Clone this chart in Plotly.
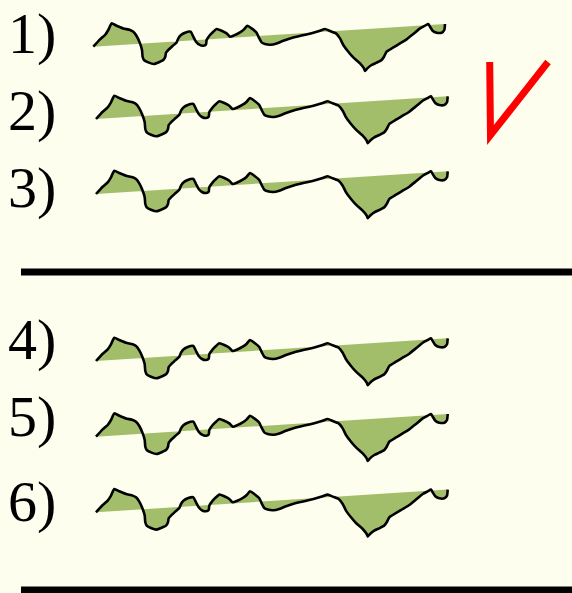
import plotly.graph_objects as go

# ground profile, shared by all six panels: distance along the profile and
# elevation relative to the start point (px, positive = up)
profile_dist = [
    0, 6.7, 11.7, 15, 18.3, 23.3, 30, 36.7, 40, 43.3, 46.7, 48.7, 49.3, 50.7,
    55, 60.7, 66.7, 70, 72, 72.7, 75, 79.3, 83.3, 85, 87.7, 91.7, 97.3, 100,
    102.7, 106, 110, 112.7, 113.3, 116.7, 120, 123.3, 128.3, 133.3, 136.7,
    140.7, 146.7, 150.7, 154, 158.3, 163.3, 166, 168.3, 171.7, 177.3, 183.3,
    190, 196.7, 203.3, 213.3, 220, 226.7, 231.7, 236.7, 242.7, 246.7, 250,
    255, 260, 266.7, 270.7, 271.7, 274, 278.3, 283.3, 288.3, 290.7, 293.3,
    300, 306.7, 313.3, 320, 326.7, 331.7, 335, 336.7, 339.3, 343.3, 348.3,
    351, 351.7,
]
profile_elev = [
    0, 7.3, 11.7, 16.7, 23.3, 21, 18.3, 16.7, 15, 10.7, 3.3, -3.3, -10, -13.3,
    -15.7, -17.3, -15, -13.3, -10, -6, -3.3, 0.7, 4.3, 8.3, 11.7, 14, 15, 10,
    5, 2, 1, 2.3, 6.7, 11.7, 15, 17.7, 16, 13.3, 10,
    11.3, 14.3, 17.3, 21, 18.3, 14, 8.3, 4.3, 2.7, 2, 3.3,
    6, 8.3, 10, 12.3, 14, 16, 17.7, 15.7, 13.3, 8.3, 1.7,
    -5, -10.7, -16.7, -21.7, -24.3, -21.7, -18.3, -16, -13.3, -10, -5,
    -0.7, 3.3, 7.3, 12.7, 18.3, 21, 22.7, 20, 16, 14, 14,
    16.7, 22.7,
]

panel_labels = ["1)", "2)", "3)", "4)", "5)", "6)"]

# where each panel's profile starts, and where its label sits (page px)
panel_x0 = [93.3, 96, 96, 96, 96, 96]
panel_y0 = [46.7, 119, 194, 361, 436.7, 512.3]
label_y = [33, 110, 187, 339, 416, 501]

BG = "#FEFEEF"
GREEN = "#A3BE6A"

fig = go.Figure()
for x0, y0 in zip(panel_x0, panel_y0):
    fig.add_trace(go.Scatter(
        x=[x0 + d for d in profile_dist],
        y=[y0 - e for e in profile_elev],
        mode="lines", fill="toself", fillcolor=GREEN,
        line=dict(color="black", width=2.6, shape="spline", smoothing=0.5),
        hoverinfo="skip", showlegend=False,
    ))

for text, y in zip(panel_labels, label_y):
    fig.add_annotation(
        x=6, y=y, xref="x", yref="y", text=text, showarrow=False,
        xanchor="left", yanchor="middle",
        font=dict(family="Liberation Serif", size=58, color="black"),
    )

# separator rules
for y in [272, 590]:
    fig.add_shape(type="line", x0=21, x1=572, y0=y, y1=y,
                  line=dict(color="black", width=7))

# red tick mark
fig.add_shape(type="path", path="M 489.7 62 L 490.5 135 L 548 62",
              line=dict(color="#FF0000", width=7))

fig.update_xaxes(range=[0, 572], visible=False, fixedrange=True)
fig.update_yaxes(range=[593, 0], visible=False, fixedrange=True)
fig.update_layout(
    width=572, height=593,
    margin=dict(l=0, r=0, t=0, b=0),
    paper_bgcolor=BG, plot_bgcolor=BG,
    showlegend=False,
)

fig.write_html(
    "out.html",
    config={"displayModeBar": False},
    post_script="document.body.style.margin='0';"
                "document.body.style.background='" + BG + "';",
)
